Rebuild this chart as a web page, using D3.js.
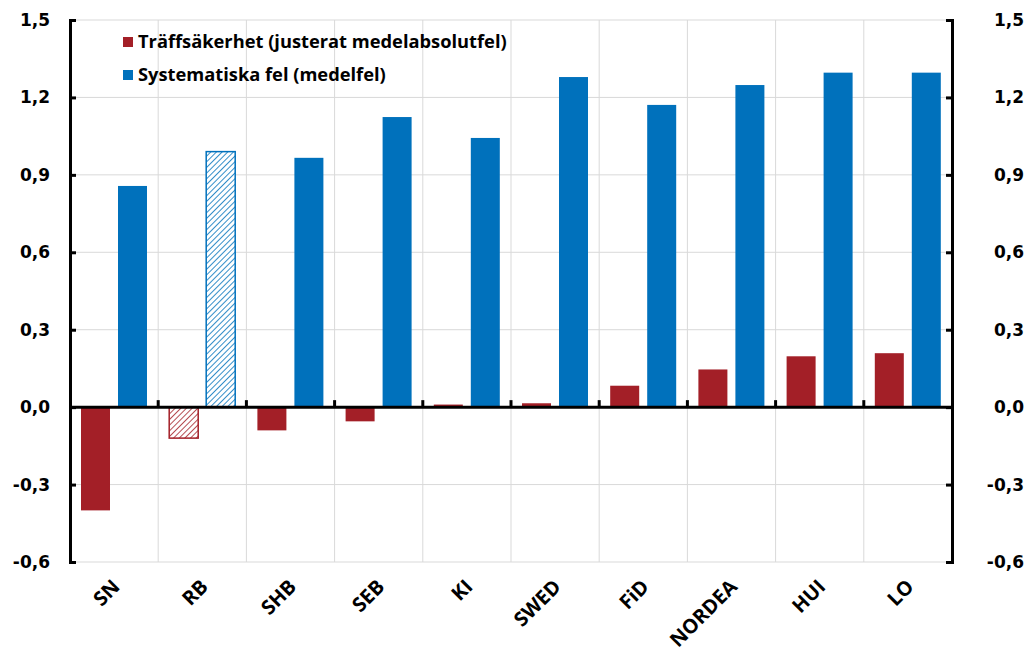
<!DOCTYPE html>
<html><head><meta charset="utf-8">
<script src="https://cdn.jsdelivr.net/npm/d3@7"></script>
<style>body{margin:0;background:#fff}</style>
</head><body>
<svg id="c" width="1024" height="670"></svg>
<script>
const categories = ["SN","RB","SHB","SEB","KI","SWED","FiD","NORDEA","HUI","LO"];
const traff = [-0.40,-0.12,-0.09,-0.055,0.01,0.015,0.083,0.146,0.197,0.209];
const syst = [0.857,0.99,0.966,1.124,1.043,1.279,1.171,1.248,1.296,1.296];
const hatched = ["RB"];
const yTicks = [-0.6,-0.3,0,0.3,0.6,0.9,1.2,1.5];
const seriesNames = ["Träffsäkerhet (justerat medelabsolutfel)","Systematiska fel (medelfel)"];
const colors = ["#A31F27","#0071BC"];

const svg = d3.select("#c");
const L=70,R=952,T=20,B=562;
const x = d3.scaleBand().domain(categories).range([L,R]);
const y = d3.scaleLinear().domain([-0.6,1.5]).range([B,T]);
const fmt = d=>d3.format(".1f")(d).replace(".",",").replace("\u2212","-");

const defs = svg.append("defs");
colors.forEach((c,i)=>{
  const p = defs.append("pattern").attr("id","h"+i).attr("patternUnits","userSpaceOnUse")
    .attr("width",4).attr("height",4).attr("patternTransform","rotate(45)");
  p.append("rect").attr("width",4).attr("height",4).attr("fill","#fff");
  p.append("line").attr("x1",0).attr("y1",0).attr("x2",0).attr("y2",4).attr("stroke",c).attr("stroke-width",1.6);
});

// grid
svg.append("g").selectAll("line").data(yTicks).join("line")
  .attr("x1",L).attr("x2",R).attr("y1",d=>y(d)).attr("y2",d=>y(d))
  .attr("stroke","#d9d9d9").attr("stroke-width",1);
const bounds = categories.map(c=>x(c)).concat([R]);
svg.append("g").selectAll("line").data(bounds.slice(1,-1)).join("line")
  .attr("x1",d=>d).attr("x2",d=>d).attr("y1",T).attr("y2",B)
  .attr("stroke","#d9d9d9").attr("stroke-width",1);

const bw = 29, off1 = 11, off2 = 48;
function bars(vals, idx, off){
  svg.append("g").selectAll("rect").data(categories).join("rect")
    .attr("x",c=>x(c)+off).attr("width",bw)
    .attr("y",(c,i)=>y(Math.max(0,vals[i])))
    .attr("height",(c,i)=>Math.abs(y(vals[i])-y(0)))
    .attr("fill",c=>hatched.includes(c)?`url(#h${idx})`:colors[idx])
    .attr("stroke",c=>hatched.includes(c)?colors[idx]:"none")
    .attr("stroke-width",1.5);
}
bars(traff,0,off1);
bars(syst,1,off2);

// zero line with ticks
svg.append("line").attr("x1",L).attr("x2",R).attr("y1",y(0)).attr("y2",y(0)).attr("stroke","#000").attr("stroke-width",3);
svg.append("g").selectAll("line").data(bounds.slice(1,-1)).join("line")
  .attr("x1",d=>d).attr("x2",d=>d).attr("y1",y(0)).attr("y2",y(0)-7).attr("stroke","#000").attr("stroke-width",3);

// axes
const la = svg.append("g").attr("transform",`translate(${L},0)`)
  .call(d3.axisRight(y).tickValues(yTicks).tickSize(6).tickFormat(""));
const ra = svg.append("g").attr("transform",`translate(${R},0)`)
  .call(d3.axisLeft(y).tickValues(yTicks).tickSize(6).tickFormat(""));
[la,ra].forEach(a=>{a.selectAll("path,line").attr("stroke","#000").attr("stroke-width",3);});

const tf = "'DejaVu Sans', sans-serif";
svg.append("g").selectAll("text").data(yTicks).join("text")
  .attr("x",L-20).attr("y",d=>y(d)+6).attr("text-anchor","end")
  .attr("font-family",tf).attr("font-weight","bold").attr("font-size",17).text(fmt);
svg.append("g").selectAll("text").data(yTicks).join("text")
  .attr("x",R+72).attr("y",d=>y(d)+6).attr("text-anchor","end")
  .attr("font-family",tf).attr("font-weight","bold").attr("font-size",17).text(fmt);

// x labels
svg.append("g").selectAll("text").data(categories).join("text")
  .attr("transform",c=>`translate(${x(c)+x.bandwidth()/2+7},${588}) rotate(-45)`)
  .attr("text-anchor","end")
  .attr("font-family","'Open Sans', sans-serif").attr("font-weight","bold").attr("font-size",20)
  .text(c=>c);

// legend
const lg = svg.append("g");
seriesNames.forEach((n,i)=>{
  const yy = 42 + i*33;
  lg.append("rect").attr("x",123).attr("y",yy-5).attr("width",10).attr("height",10).attr("fill",colors[i]);
  lg.append("text").attr("x",138).attr("y",yy+6).attr("font-family","'Open Sans', sans-serif")
    .attr("font-weight","bold").attr("font-size",18.3).text(n);
});
</script>
</body></html>
